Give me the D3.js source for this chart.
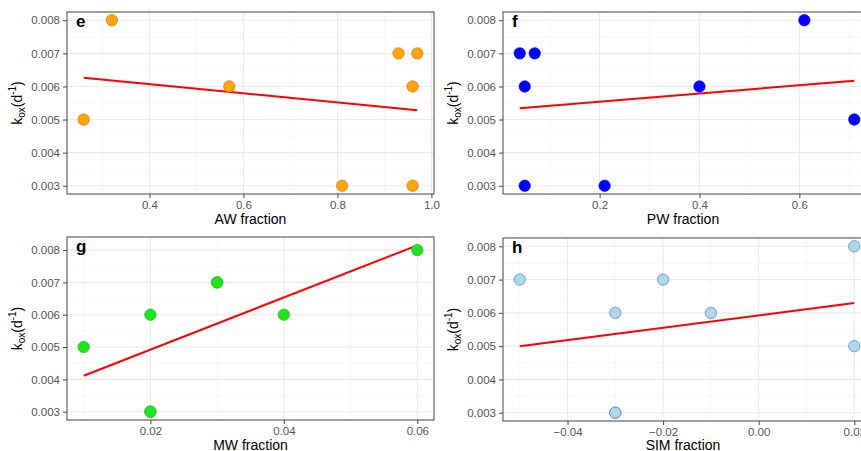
<!DOCTYPE html>
<html>
<head>
<meta charset="utf-8">
<script src="https://cdn.jsdelivr.net/npm/d3@7"></script>
<style>
  html, body { margin: 0; padding: 0; background: #fff; }
  svg { display: block; font-family: "Liberation Sans", Arial, sans-serif; }
</style>
</head>
<body>
<svg id="chart" width="861" height="451"></svg>
<script>
// ---- data ----
const awFraction  = [0.26, 0.32, 0.57, 0.81, 0.93, 0.96, 0.96, 0.97];
const kE          = [0.005, 0.008, 0.006, 0.003, 0.007, 0.006, 0.003, 0.007];

const pwFraction  = [0.04, 0.07, 0.05, 0.05, 0.21, 0.40, 0.61, 0.71];
const kF          = [0.007, 0.007, 0.006, 0.003, 0.003, 0.006, 0.008, 0.005];

const mwFraction  = [0.01, 0.02, 0.02, 0.02, 0.03, 0.03, 0.04, 0.06];
const kG          = [0.005, 0.006, 0.003, 0.003, 0.007, 0.007, 0.006, 0.008];

const simFraction = [-0.05, -0.03, -0.03, -0.03, -0.02, -0.01, 0.02, 0.02];
const kH          = [0.007, 0.006, 0.003, 0.003, 0.007, 0.006, 0.008, 0.005];

const yTicks = [0.003, 0.004, 0.005, 0.006, 0.007, 0.008];
const yMinor = [0.0035, 0.0045, 0.0055, 0.0065, 0.0075];

const xTicksE = [0.4, 0.6, 0.8, 1.0];   const xMinorE = [0.3, 0.5, 0.7, 0.9];
const xTicksF = [0.2, 0.4, 0.6];        const xMinorF = [0.1, 0.3, 0.5, 0.7];
const xTicksG = [0.02, 0.04, 0.06];     const xMinorG = [0.01, 0.03, 0.05];
const xTicksH = [-0.04, -0.02, 0.00, 0.02]; const xMinorH = [-0.05, -0.03, -0.01, 0.01];

const panelLabels = ["e", "f", "g", "h"];
const xTitles = ["AW fraction", "PW fraction", "MW fraction", "SIM fraction"];

// ---- layout / style ----
const panels = [
  { x: awFraction,  y: kE, xt: xTicksE, xm: xMinorE, fmt: d3.format(".1f"),
    left: 67,  top: 12,  w: 367, h: 182, fill: "#FFA500", stroke: "#c9762e", tOff: 30 },
  { x: pwFraction,  y: kF, xt: xTicksF, xm: xMinorF, fmt: d3.format(".1f"),
    left: 503, top: 12,  w: 368, h: 182, fill: "#0000FF", stroke: "#0000FF", tOff: 30 },
  { x: mwFraction,  y: kG, xt: xTicksG, xm: xMinorG, fmt: d3.format(".2f"),
    left: 67,  top: 237, w: 367, h: 183, fill: "#1ee61e", stroke: "#22b822", tOff: 29.5 },
  { x: simFraction, y: kH, xt: xTicksH, xm: xMinorH, fmt: d3.format(".2f"),
    left: 503, top: 238, w: 368, h: 183, fill: "#ADD8E6", stroke: "#5a78cc", tOff: 28.5 }
];

const svg = d3.select("#chart");

function fit(xs, ys) {
  const mx = d3.mean(xs), my = d3.mean(ys);
  let sxy = 0, sxx = 0;
  xs.forEach((x, i) => { sxy += (x - mx) * (ys[i] - my); sxx += (x - mx) * (x - mx); });
  const b = sxy / sxx, a = my - b * mx;
  return x => a + b * x;
}

function expand(lo, hi) {
  const r = hi - lo;
  return [lo - 0.05 * r, hi + 0.05 * r];
}

panels.forEach((p, idx) => {
  const f = fit(p.x, p.y);
  const [x0, x1] = d3.extent(p.x);
  const lineY = [f(x0), f(x1)];
  const yLo = Math.min(d3.min(p.y), ...lineY);
  const yHi = Math.max(d3.max(p.y), ...lineY);

  const xs = d3.scaleLinear().domain(expand(x0, x1)).range([p.left, p.left + p.w]);
  const ys = d3.scaleLinear().domain(expand(yLo, yHi)).range([p.top + p.h, p.top]);

  const g = svg.append("g");

  // background
  g.append("rect").attr("x", p.left).attr("y", p.top).attr("width", p.w).attr("height", p.h)
    .attr("fill", "#fff");

  // minor grid
  g.selectAll(".xminor").data(p.xm.filter(v => v >= xs.domain()[0] && v <= xs.domain()[1]))
    .enter().append("line")
    .attr("x1", d => xs(d)).attr("x2", d => xs(d))
    .attr("y1", p.top).attr("y2", p.top + p.h)
    .attr("stroke", "#f2f2f2").attr("stroke-width", 0.6);
  g.selectAll(".yminor").data(yMinor.filter(v => v >= ys.domain()[0] && v <= ys.domain()[1]))
    .enter().append("line")
    .attr("y1", d => ys(d)).attr("y2", d => ys(d))
    .attr("x1", p.left).attr("x2", p.left + p.w)
    .attr("stroke", "#f2f2f2").attr("stroke-width", 0.6);

  // major grid
  g.selectAll(".xmajor").data(p.xt).enter().append("line")
    .attr("x1", d => xs(d)).attr("x2", d => xs(d))
    .attr("y1", p.top).attr("y2", p.top + p.h)
    .attr("stroke", "#ebebeb").attr("stroke-width", 1.1);
  g.selectAll(".ymajor").data(yTicks).enter().append("line")
    .attr("y1", d => ys(d)).attr("y2", d => ys(d))
    .attr("x1", p.left).attr("x2", p.left + p.w)
    .attr("stroke", "#ebebeb").attr("stroke-width", 1.1);

  // axes
  const xAxis = d3.axisBottom(xs).tickValues(p.xt).tickFormat(p.fmt).tickSize(4).tickPadding(2.5);
  const yAxis = d3.axisLeft(ys).tickValues(yTicks).tickFormat(d3.format(".3f")).tickSize(4).tickPadding(3);
  const gx = g.append("g").attr("transform", `translate(0,${p.top + p.h})`).call(xAxis);
  const gy = g.append("g").attr("transform", `translate(${p.left},0)`).call(yAxis);
  [gx, gy].forEach(a => {
    a.select(".domain").remove();
    a.selectAll(".tick line").attr("stroke", "#444").attr("stroke-width", 1);
    a.selectAll(".tick text").attr("fill", "#555").attr("font-size", 11.5)
      .attr("font-family", "Liberation Sans, Arial, sans-serif");
  });

  // regression line
  g.append("line")
    .attr("x1", xs(x0)).attr("y1", ys(lineY[0]))
    .attr("x2", xs(x1)).attr("y2", ys(lineY[1]))
    .attr("stroke", "#FF0000").attr("stroke-width", 2);

  // points
  g.selectAll("circle.pt").data(p.x.map((x, i) => [x, p.y[i]])).enter().append("circle")
    .attr("cx", d => xs(d[0])).attr("cy", d => ys(d[1])).attr("r", 5.7)
    .attr("fill", p.fill).attr("stroke", p.stroke).attr("stroke-width", 0.7);

  // border
  g.append("rect").attr("x", p.left).attr("y", p.top).attr("width", p.w).attr("height", p.h)
    .attr("fill", "none").attr("stroke", "#555").attr("stroke-width", 1.1);

  // panel letter
  g.append("text").attr("x", p.left + 9).attr("y", p.top + 15)
    .attr("font-size", 17).attr("font-weight", "bold").attr("fill", "#000")
    .text(panelLabels[idx]);

  // x title
  g.append("text").attr("x", p.left + p.w / 2 - (idx % 2 ? 4 : 0)).attr("y", p.top + p.h + p.tOff)
    .attr("text-anchor", "middle").attr("font-size", 14).attr("fill", "#000")
    .text(xTitles[idx]);

  // y title
  const cx = p.left - 45, cy = p.top + p.h / 2;
  const yt = g.append("text").attr("transform", `translate(${cx},${cy}) rotate(-90)`)
    .attr("text-anchor", "middle").attr("font-size", 14).attr("fill", "#000");
  yt.append("tspan").text("k");
  yt.append("tspan").attr("font-size", 10).attr("dy", 3).text("ox");
  yt.append("tspan").attr("dy", -3).text("(d");
  yt.append("tspan").attr("font-size", 10).attr("dy", -6).text("-1");
  yt.append("tspan").attr("dy", 6).text(")");
});
</script>
</body>
</html>
